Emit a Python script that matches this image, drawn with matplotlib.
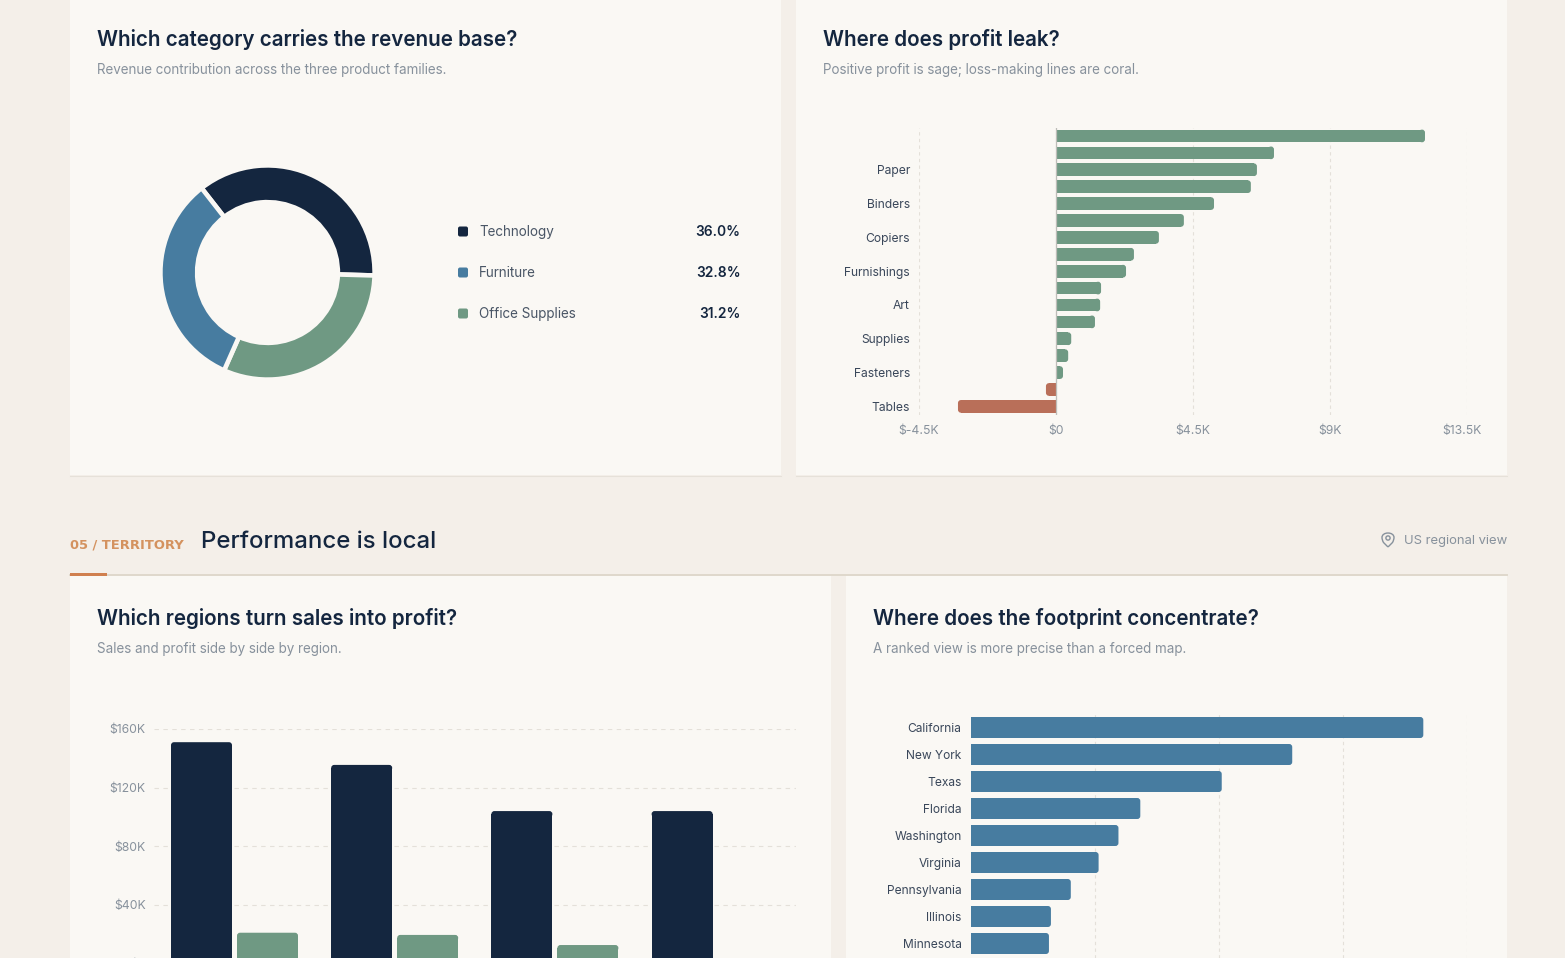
import matplotlib
matplotlib.use('Agg')
import matplotlib.pyplot as plt
from matplotlib.patches import Rectangle, FancyBboxPatch, Circle, PathPatch
from matplotlib.path import Path
from matplotlib.transforms import ScaledTranslation

W, H = 1565, 958

PAGE = '#F4EFE9'
CARD = '#FAF8F4'
NAVY = '#14263F'
BLUE = '#477CA0'
SAGE = '#6F9983'
CORAL = '#B96F59'
ORANGE = '#D4925F'
GRID = '#E4E0D9'
MUTED = '#87919C'
LABEL = '#3A475A'

# category share
share_names = ['Technology', 'Office Supplies', 'Furniture']
share_values = [36.0, 31.2, 32.8]
share_colors = [NAVY, SAGE, BLUE]
legend_names = ['Technology', 'Furniture', 'Office Supplies']
legend_values = ['36.0%', '32.8%', '31.2%']
legend_colors = [NAVY, BLUE, SAGE]

# profit by sub-category, only every other name shows on the axis
profit_labels = ['', '', 'Paper', '', 'Binders', '', 'Copiers', '', 'Furnishings',
                 '', 'Art', '', 'Supplies', '', 'Fasteners', '', 'Tables']
profit_values = [12120, 7160, 6600, 6400, 5190, 4200, 3380, 2560, 2300,
                 1480, 1450, 1280, 500, 400, 230, -330, -3220]
profit_ticks = [-4500, 0, 4500, 9000, 13500]
profit_tick_labels = ['$-4.5K', '$0', '$4.5K', '$9K', '$13.5K']

# regions
region_names = ['West', 'East', 'Central', 'South']
region_sales = [151000, 135500, 104000, 104000]
region_profit = [21000, 19500, 12600, 2500]
region_ticks = [0, 40000, 80000, 120000, 160000]
region_tick_labels = ['$0', '$40K', '$80K', '$120K', '$160K']

# states
state_names = ['California', 'New York', 'Texas', 'Florida', 'Washington',
               'Virginia', 'Pennsylvania', 'Illinois', 'Minnesota']
state_sales = [456000, 324000, 253000, 171000, 149000, 129000, 101000, 81000, 79000]
state_ticks = [125000, 250000, 375000, 500000]

plt.rcParams['font.family'] = ['Inter', 'DejaVu Sans']

fig = plt.figure(figsize=(W / 100, H / 100), dpi=100, facecolor=PAGE)


def px_axes(x0, y0, x1, y1, **kw):
    # axes box given in picture pixels, y going down
    return fig.add_axes([x0 / W, 1 - y1 / H, (x1 - x0) / W, (y1 - y0) / H], **kw)


def clean(ax):
    ax.patch.set_alpha(0)
    for s in ax.spines.values():
        s.set_visible(False)


def px(size):
    return size * 0.72


bg = px_axes(0, 0, W, H, zorder=0)
bg.set_xlim(0, W)
bg.set_ylim(H, 0)
bg.axis('off')

for x0, y0, x1, y1 in [(70, 0, 781, 475), (796, 0, 1507, 475),
                       (70, 576, 831, H), (846, 576, 1507, H)]:
    bg.add_patch(Rectangle((x0, y0), x1 - x0, y1 - y0, fc=CARD, ec='none'))
for x0, x1 in [(70, 781), (796, 1507)]:
    bg.plot([x0, x1], [475.5, 475.5], color='#E6E1D9', lw=0.8)
bg.plot([70, 1507], [575, 575], color='#DFD8CC', lw=1.4)
bg.add_patch(Rectangle((70, 573), 37, 2.5, fc='#D0804F', ec='none', zorder=3))

TITLE = dict(color=NAVY, fontsize=px(20.6), fontweight='semibold', va='center')
SUB = dict(color=MUTED, fontsize=px(13.45), va='center')
bg.text(97, 39.5, 'Which category carries the revenue base?', **TITLE)
bg.text(97, 70, 'Revenue contribution across the three product families.', **SUB)
bg.text(823, 39.5, 'Where does profit leak?', **TITLE)
bg.text(823, 70, 'Positive profit is sage; loss-making lines are coral.', **SUB)
bg.text(97, 618.5, 'Which regions turn sales into profit?', **TITLE)
bg.text(97, 649, 'Sales and profit side by side by region.', **SUB)
bg.text(873, 618.5, 'Where does the footprint concentrate?', **TITLE)
bg.text(873, 649, 'A ranked view is more precise than a forced map.', **SUB)

bg.text(70, 544.5, '05 / TERRITORY', color=ORANGE, fontsize=px(13), fontweight='bold',
        family=['DejaVu Sans'], va='center')
bg.text(201, 541.5, 'Performance is local', color=NAVY, fontsize=px(24), fontweight='medium', va='center')
bg.text(1507, 541, 'US regional view', color=MUTED, fontsize=px(13), va='center', ha='right')

# map pin next to the region note
pin = Path([(1388, 547), (1383.5, 542.5), (1382, 540), (1382, 537.5),
            (1382, 531.5), (1394, 531.5), (1394, 537.5),
            (1394, 540), (1392.5, 542.5), (1388, 547)],
           [Path.MOVETO, Path.LINETO, Path.CURVE3, Path.CURVE3,
            Path.CURVE4, Path.CURVE4, Path.CURVE4,
            Path.CURVE3, Path.CURVE3, Path.LINETO])
bg.add_patch(PathPatch(pin, fc='none', ec=MUTED, lw=1.0))
bg.add_patch(Circle((1388, 538), 2.1, fc='none', ec=MUTED, lw=1.0))

# donut
ax = px_axes(162.5, 167.5, 372.5, 377.5)
ax.pie(share_values, colors=share_colors, startangle=128, counterclock=False, radius=1.02,
       wedgeprops=dict(width=0.35, edgecolor=CARD, linewidth=3.3, clip_on=False))
ax.set_xlim(-1, 1)
ax.set_ylim(-1, 1)
ax.patch.set_alpha(0)

for y, name, val, col in zip([232, 273, 314], legend_names, legend_values, legend_colors):
    bg.add_patch(FancyBboxPatch((458, y - 5.5), 10, 10, boxstyle='round,pad=0,rounding_size=2',
                                fc=col, ec='none'))
    bg.text(479, y, name, color='#4A5666', fontsize=px(13.5), va='center')
    bg.text(740.5, y, val, color=NAVY, fontsize=px(13.8), fontweight='semibold', va='center', ha='right')


def round_h(ax, y, value, height, color, r):
    # flat end on the baseline, rounded on the far end
    sign = 1 if value >= 0 else -1
    r = min(r, abs(value) / 2)
    ax.barh(y, value - sign * r, height=height, color=color, zorder=2)
    x_per_px = (ax.get_xlim()[1] - ax.get_xlim()[0]) / ax.bbox.width
    y_per_px = abs(ax.get_ylim()[1] - ax.get_ylim()[0]) / ax.bbox.height
    left = min(value, value - sign * 2 * r)
    ax.add_patch(FancyBboxPatch((left, y - height / 2), 2 * r, height,
                                boxstyle=f'round,pad=0,rounding_size={r}',
                                mutation_aspect=y_per_px / x_per_px,
                                fc=color, ec='none', zorder=2))


def round_v(ax, x, value, width, color, r):
    # flat at the bottom, rounded at the top
    if value <= r * 2:
        ax.bar(x, value, width=width, color=color, zorder=2)
        return
    ax.bar(x, value - r, width=width, color=color, zorder=2)
    x_per_px = (ax.get_xlim()[1] - ax.get_xlim()[0]) / ax.bbox.width
    y_per_px = (ax.get_ylim()[1] - ax.get_ylim()[0]) / ax.bbox.height
    ax.add_patch(FancyBboxPatch((x - width / 2, value - 2 * r), width, 2 * r,
                                boxstyle=f'round,pad=0,rounding_size={r * x_per_px / y_per_px}',
                                mutation_aspect=y_per_px / x_per_px,
                                fc=color, ec='none', zorder=2))


# profit bars
ax = px_axes(919, 128, 1467, 415)
clean(ax)
ax.set_xlim(profit_ticks[0], profit_ticks[-1])
ax.set_ylim(16.51, -0.47)
xp = 18000 / 548
for i, v in enumerate(profit_values):
    round_h(ax, i, v, 0.75, SAGE if v >= 0 else CORAL, 3 * xp)
ax.set_xticks(profit_ticks, profit_tick_labels)
ax.set_yticks(range(len(profit_labels)), profit_labels)
ax.tick_params(axis='x', length=0, pad=7, labelsize=px(12.2), labelcolor=MUTED)
ax.tick_params(axis='y', length=0, pad=6.5, labelsize=px(12.1), labelcolor=LABEL)
# last label sits a little left of its gridline
last = ax.get_xticklabels()[-1]
last.set_transform(last.get_transform() + ScaledTranslation(-0.05, 0, fig.dpi_scale_trans))
ax.grid(axis='x', color=GRID, linestyle=(0, (3, 3)), linewidth=0.8, zorder=0)
ax.set_axisbelow(True)
ax.axvline(0, color='#BDBDB8', lw=0.9, zorder=3)

# regions, the baseline falls just below the bottom of the picture
ax = px_axes(154, 729, 796, 963.5)
clean(ax)
ax.set_xlim(0, 642)
ax.set_ylim(0, 160000)
yp = 160000 / 234.5
for i in range(len(region_names)):
    round_v(ax, 47.5 + 160.2 * i, region_sales[i], 61, NAVY, 3 * yp)
    round_v(ax, 113.5 + 160.2 * i, region_profit[i], 61, SAGE, 3 * yp)
ax.set_xticks([])
ax.set_yticks(region_ticks, region_tick_labels)
ax.tick_params(axis='y', length=0, pad=6, labelsize=px(12.2), labelcolor=MUTED)
ax.grid(axis='y', color=GRID, linestyle=(0, (4, 4)), linewidth=0.8, zorder=0)
ax.set_axisbelow(True)

# states
ax = px_axes(970.5, 714, 1467, H)
clean(ax)
ax.set_xlim(0, 500000)
ax.set_ylim((H - 727.5) / 27, (714 - 727.5) / 27)
xp = 500000 / 496.5
for i, v in enumerate(state_sales):
    round_h(ax, i, v, 21 / 27, BLUE, 3 * xp)
ax.set_xticks(state_ticks, [])
ax.set_yticks(range(len(state_names)), state_names)
ax.tick_params(axis='x', length=0)
ax.tick_params(axis='y', length=0, pad=6.5, labelsize=px(12), labelcolor=LABEL)
ax.grid(axis='x', color=GRID, linestyle=(0, (3, 3)), linewidth=0.8, zorder=0)
ax.set_axisbelow(True)

fig.savefig('out.png', dpi=100, facecolor=PAGE)
